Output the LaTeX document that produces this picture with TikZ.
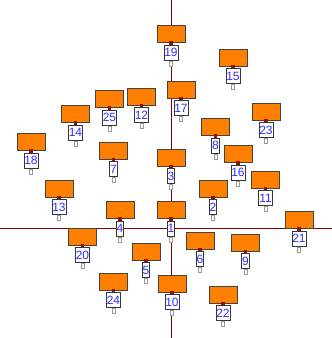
\documentclass[tikz,border=0pt]{standalone}
\usepackage{fontspec}
\setmainfont{Liberation Sans}
\usetikzlibrary{positioning}
\definecolor{signorange}{HTML}{FF8000}
\definecolor{axisred}{HTML}{800000}
\definecolor{tagblue}{HTML}{3030FF}
\definecolor{rimgray}{HTML}{6E6E6E}

\begin{document}
\begin{tikzpicture}[
    x=1pt, y=-1pt,
    board/.style={draw=rimgray!60!black, fill=signorange, line width=0.8pt,
        minimum width=28pt, minimum height=17pt, inner sep=0pt},
    tag/.style={draw=rimgray!50!black, fill=white, line width=0.8pt,
        font=\fontsize{12}{12}\selectfont, text=tagblue, inner sep=0.4pt,
        minimum height=15pt, minimum width=7pt},
    pin/.style={fill=axisred!85!orange, inner sep=0pt, minimum size=3.5pt},
    stub/.style={draw=rimgray!70, fill=white, line width=0.6pt, inner sep=0pt,
        minimum width=3pt, minimum height=5pt},
]
\useasboundingbox (0,0) rectangle (332,338);

% Axes
\draw[axisred, line width=0.9pt] (171.3,0) -- (171.3,338);
\draw[axisred, line width=0.9pt] (0,228.3) -- (332,228.3);

% Signs: number / centre of the board
\foreach \n/\x/\y in {
    19/171/34, 15/233/57.5, 17/181/89.5, 25/109.5/99, 12/141.5/96.5,
    14/75.5/114, 23/266/111.5, 8/215.5/127, 18/31/142, 7/113.5/150.5,
    3/171/157.5, 16/238/154, 11/265.5/179.5, 13/59/188.5, 2/213/188.5,
    4/120/210, 1/171/210, 21/299/220, 20/82.5/236.5, 6/200/240.5,
    9/245.5/242.5, 5/146/251.5, 24/113.5/281.5, 10/172/283.5, 22/223/294.5%
} {
    \node[board] (b\n) at (\x,\y) {};
    \node[tag, below=2pt of b\n] (t\n) {\n};
    \node[pin] (p\n) at (b\n.south) {};
    \node[stub, below=0pt of t\n] (s\n) {};
}

\end{tikzpicture}
\end{document}
